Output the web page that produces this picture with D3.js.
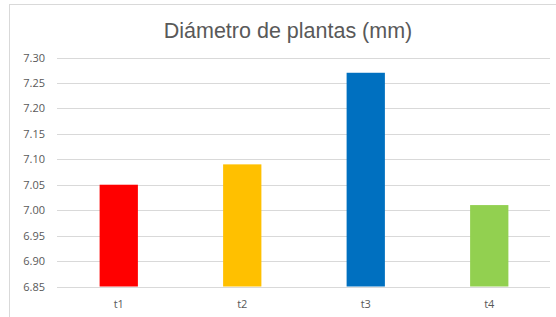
<!DOCTYPE html>
<html><head><meta charset="utf-8">
<script src="https://cdn.jsdelivr.net/npm/d3@7/dist/d3.min.js"></script>
<style>body{margin:0;background:#fff}svg{display:block}</style>
</head><body>
<svg id="c" width="556" height="317"></svg>
<script>
const categories = ["t1", "t2", "t3", "t4"];
const values = [7.05, 7.09, 7.27, 7.01];
const colors = ["#FF0000", "#FFC000", "#0070C0", "#92D050"];
const yTicks = [6.85, 6.90, 6.95, 7.00, 7.05, 7.10, 7.15, 7.20, 7.25, 7.30];
const title = "Diámetro de plantas (mm)";

const svg = d3.select("#c");
// chart frame
svg.append("rect").attr("x", 9.5).attr("y", 4.5).attr("width", 560).attr("height", 330)
  .attr("fill", "#fff").attr("stroke", "#d9d9d9");

const x = d3.scaleBand().domain(categories).range([57, 551]).paddingInner(0.69).paddingOuter(0.345);
const y = d3.scaleLinear().domain([6.85, 7.30]).range([286.5, 57.5]);

svg.append("g").selectAll("line").data(yTicks).join("line")
  .attr("x1", 57).attr("x2", 550)
  .attr("y1", d => Math.round(y(d)) + 0.5).attr("y2", d => Math.round(y(d)) + 0.5)
  .attr("stroke", "#d9d9d9").attr("stroke-width", 1);

const yAxis = d3.axisLeft(y).tickValues(yTicks).tickFormat(d3.format(".2f")).tickSize(0).tickPadding(0);
const ga = svg.append("g").attr("transform", "translate(45,0)").call(yAxis);
ga.select(".domain").remove();
ga.selectAll("text").attr("fill", "#595959").style("font-family", "'Open Sans', sans-serif").style("font-size", "11px");

svg.append("g").selectAll("rect").data(values).join("rect")
  .attr("x", (d, i) => x(categories[i]))
  .attr("width", x.bandwidth())
  .attr("y", d => y(d))
  .attr("height", d => y(6.85) - y(d))
  .attr("fill", (d, i) => colors[i]);

const xAxis = d3.axisBottom(x).tickSize(0).tickPadding(0);
const gx = svg.append("g").attr("transform", "translate(0,300)").call(xAxis);
gx.select(".domain").remove();
gx.selectAll("text").attr("fill", "#595959").style("font-family", "'Open Sans', sans-serif").style("font-size", "11px");

svg.append("text").attr("x", 288).attr("y", 38).attr("text-anchor", "middle")
  .attr("fill", "#595959").style("font-family", "'Liberation Sans', Arial, sans-serif").style("font-size", "21.5px")
  .text(title);
</script>
</body></html>
